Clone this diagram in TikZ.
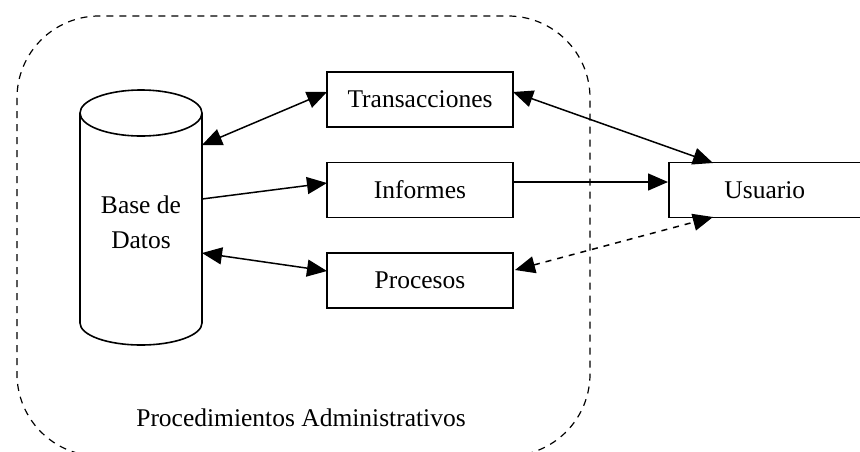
\documentclass[tikz,border=0pt]{standalone}
\usepackage{fontspec}
\setmainfont{Liberation Serif}
\usetikzlibrary{arrows.meta}
\begin{document}
\begin{tikzpicture}[x=1pt,y=-1pt,
  box/.style={draw,line width=1.7pt,minimum width=186pt,minimum height=55pt,inner sep=0pt,font=\fontsize{25.5}{27}\selectfont},
  conn/.style={line width=1.5pt,{Triangle[length=20pt,width=17pt]}-{Triangle[length=20pt,width=17pt]}},
  oneway/.style={line width=1.5pt,-{Triangle[length=20pt,width=17pt]}},
  frame/.style={dashed,dash pattern=on 7pt off 6pt,line width=1.2pt}]
\useasboundingbox (0,0) rectangle (860,451);
\clip (0,0) rectangle (860,451);
\fill[white] (0,0) rectangle (860,451);
% outer dashed region
\draw[frame,rounded corners=82pt] (17,16) rectangle (590,456);
\node[font=\fontsize{25.5}{27}\selectfont] (lbl) at (301,418) {Procedimientos Administrativos};
% database cylinder
\node[minimum width=122pt,minimum height=210pt,inner sep=0pt] (db) at (141,218) {};
\draw[line width=1.6pt] (80,113) -- (80,323) arc[start angle=180,end angle=360,x radius=61pt,y radius=22pt] -- (202,113);
\draw[line width=1.6pt] (141,113) ellipse[x radius=61pt,y radius=23pt];
\node[align=center,font=\fontsize{25.5}{35}\selectfont] (dbl) at (141,222) {Base de\\Datos};
% boxes
\node[box] (tr) at (420,99.5) {Transacciones};
\node[box] (inf) at (420,190) {Informes};
\node[box] (pro) at (420,280.5) {Procesos};
\node[box,minimum width=220pt,anchor=west] (us) at (668,190) {\hspace*{-28pt}Usuario};
% connectors
\coordinate (dbA) at (202,145);
\coordinate (dbB) at (202,199);
\coordinate (dbC) at (202,253);
\coordinate (trW) at (327,92);
\coordinate (trE) at (513,92);
\coordinate (infW) at (327,183);
\coordinate (infE) at (513,182);
\coordinate (proW) at (327,271);
\coordinate (proE) at (515,270);
\coordinate (usT) at (713,163);
\coordinate (usW) at (668,182);
\coordinate (usB) at (713,217);
\draw[conn] (dbA) -- (trW);
\draw[oneway] (dbB) -- (infW);
\draw[conn] (dbC) -- (proW);
\draw[conn] (trE) -- (usT);
\draw[oneway] (infE) -- (usW);
\draw[conn,dashed,dash pattern=on 6pt off 6pt] (proE) -- (usB);
\end{tikzpicture}
\end{document}
